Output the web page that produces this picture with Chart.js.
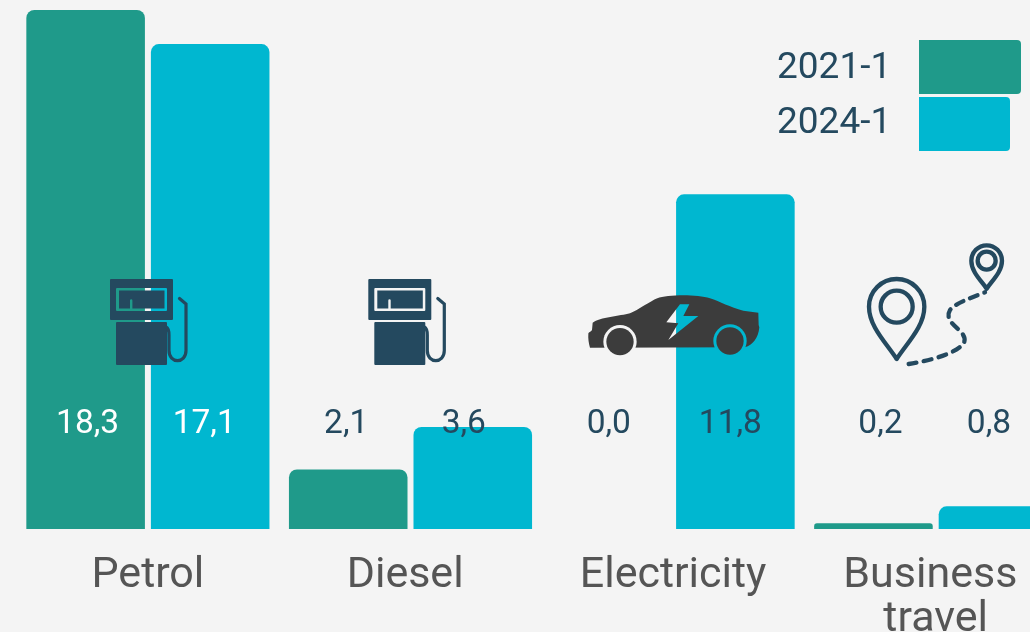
<!DOCTYPE html>
<html>
<head>
<meta charset="utf-8">
<script src="https://cdn.jsdelivr.net/npm/chart.js@4"></script>
<style>
  html, body { margin: 0; padding: 0; width: 1030px; height: 632px; overflow: hidden; background: #f4f4f4; }
  #wrap { position: relative; width: 1030px; height: 632px; overflow: hidden; }
  #chart { position: absolute; left: 0; top: 0; }
  #icons { position: absolute; left: 0; top: 0; pointer-events: none; }
</style>
</head>
<body>
<div id="wrap">
  <canvas id="chart" width="1067" height="700"></canvas>
  <svg id="icons" width="1030" height="632" viewBox="0 0 1030 632">
    <defs>
      <g id="pump">
        <path fill="#24495f" fill-rule="evenodd" d="M111 279H172a1 1 0 0 1 1 1V319a1 1 0 0 1-1 1H111a1 1 0 0 1-1-1V280a1 1 0 0 1 1-1Z
          M117 288H166a1 1 0 0 1 1 1V310a1 1 0 0 1-1 1H117a1 1 0 0 1-1-1V289a1 1 0 0 1 1-1Z
          M119 290.5V308.5H130V300.5a1.2 1.2 0 0 1 2.4 0V308.5H164.5V290.5Z"/>
        <rect x="116" y="322" width="51" height="43" rx="1" fill="#24495f"/>
        <path fill="none" stroke="#24495f" stroke-width="3.2" stroke-linecap="round" d="M179.5 298.5L186 304V350.5C186 364 169 364 169 350.5V335C169 330 168 328 166 327"/>
      </g>
      <mask id="carMask" maskUnits="userSpaceOnUse" x="0" y="0" width="1400" height="500">
        <rect width="1400" height="500" fill="#000"/>
        <path fill="#fff" d="M55 312C55 306 64 305 66 300L68 278C90 262 150 258 180 250C205 240 240 214 262 205C290 194 380 192 420 205C450 215 480 232 520 242L565 248L566 285L568 292C565 325 548 345 525 352L60 353C56 340 54 325 55 312Z"/>
        <circle cx="150" cy="335" r="50" fill="#000"/>
        <circle cx="480" cy="333" r="50" fill="#000"/>
        <path fill="#000" d="M330 223H358L340 258H385L295 330L325 280L289 277Z"/>
      </mask>
    </defs>
    <use href="#pump"/>
    <use href="#pump" x="258.3"/>
    <g transform="translate(570 230) scale(0.33333)">
      <rect width="1400" height="500" fill="#3c3c3c" mask="url(#carMask)"/>
      <circle cx="150" cy="335" r="41" fill="#3c3c3c"/>
      <circle cx="480" cy="333" r="41" fill="#3c3c3c"/>
      <g fill="none" stroke="#24495f" stroke-width="13">
        <path stroke-linejoin="round" d="M980 387C950 340 897 290 897 230A83 83 0 0 1 1063 230C1063 290 1010 340 980 387Z"/>
        <circle cx="980" cy="230" r="48"/>
        <path stroke-linejoin="round" d="M1250 176C1232 150 1204 125 1204 92A46 46 0 0 1 1296 92C1296 125 1268 150 1250 176Z"/>
        <circle cx="1250" cy="92" r="27"/>
        <path stroke-linecap="round" stroke-dasharray="24 22" d="M1016 402C1060 395 1120 382 1160 358C1190 340 1190 325 1170 302C1150 285 1125 265 1140 240C1155 220 1200 205 1245 187"/>
      </g>
    </g>
  </svg>
</div>
<script>
const categories = ['Petrol', 'Diesel ', 'Electricity', ['Business ', 'travel']];
const seriesNames = ['2021-1', '2024-1'];
const values2021 = [18.3, 2.1, 0.0, 0.2];
const values2024 = [17.1, 3.6, 11.8, 0.8];
const seriesColors = ['#1f9a8a', '#00b7d0'];

// the value labels sit at one height and were nudged by hand in the original
const labelShift = [[2, -2, -2, 7], [-6, -9, -5, -9]];
const labelColors = [['#fff', '#24495f', '#24495f', '#24495f'], ['#fff', '#24495f', '#24495f', '#24495f']];

const valueLabels = {
  id: 'valueLabels',
  afterDatasetsDraw(chart) {
    const ctx = chart.ctx;
    ctx.save();
    ctx.font = '33.5px Roboto';
    ctx.textAlign = 'center';
    ctx.textBaseline = 'middle';
    chart.data.datasets.forEach((ds, d) => {
      chart.getDatasetMeta(d).data.forEach((bar, i) => {
        ctx.fillStyle = labelColors[d][i];
        ctx.fillText(ds.data[i].toFixed(1).replace('.', ','), bar.x + labelShift[d][i], 424.5);
      });
    });
    ctx.restore();
  }
};

// swatches have different widths in the original, so the legend is drawn here
const sideLegend = {
  id: 'sideLegend',
  afterDraw(chart) {
    const ctx = chart.ctx;
    const rows = [{ y: 40, w: 102, textY: 69 }, { y: 97, w: 91, textY: 124 }];
    ctx.save();
    rows.forEach((r, i) => {
      ctx.fillStyle = seriesColors[i];
      ctx.beginPath();
      ctx.roundRect(919, r.y, r.w, 54, [0, 4, 4, 0]);
      ctx.fill();
      ctx.fillStyle = '#24495f';
      ctx.font = '37px Roboto';
      ctx.textAlign = 'left';
      ctx.textBaseline = 'middle';
      ctx.fillText(seriesNames[i], 777, r.textY);
    });
    ctx.restore();
  }
};

new Chart(document.getElementById('chart'), {
  type: 'bar',
  data: {
    labels: categories,
    datasets: [
      { label: seriesNames[0], data: values2021, backgroundColor: c => c.raw === 0 ? 'transparent' : seriesColors[0] },
      { label: seriesNames[1], data: values2024, backgroundColor: seriesColors[1] }
    ]
  },
  options: {
    responsive: false,
    animation: false,
    layout: { padding: { left: 16.6, right: 0, top: 0, bottom: 0 } },
    datasets: {
      bar: {
        categoryPercentage: 0.9486,
        barPercentage: 0.952,
        borderRadius: { topLeft: 8, topRight: 8, bottomLeft: 0, bottomRight: 0 },
        borderSkipped: false
      }
    },
    plugins: { legend: { display: false }, tooltip: { enabled: false } },
    scales: {
      x: {
        grid: { display: false },
        border: { display: false },
        afterFit: s => { s.height = 171; },
        ticks: { color: '#555', font: { family: 'Roboto', size: 43, lineHeight: 1.03 }, padding: 17, maxRotation: 0, autoSkip: false }
      },
      y: { display: false, min: 0, max: 18.653 }
    }
  },
  plugins: [valueLabels, sideLegend]
});
</script>
</body>
</html>
